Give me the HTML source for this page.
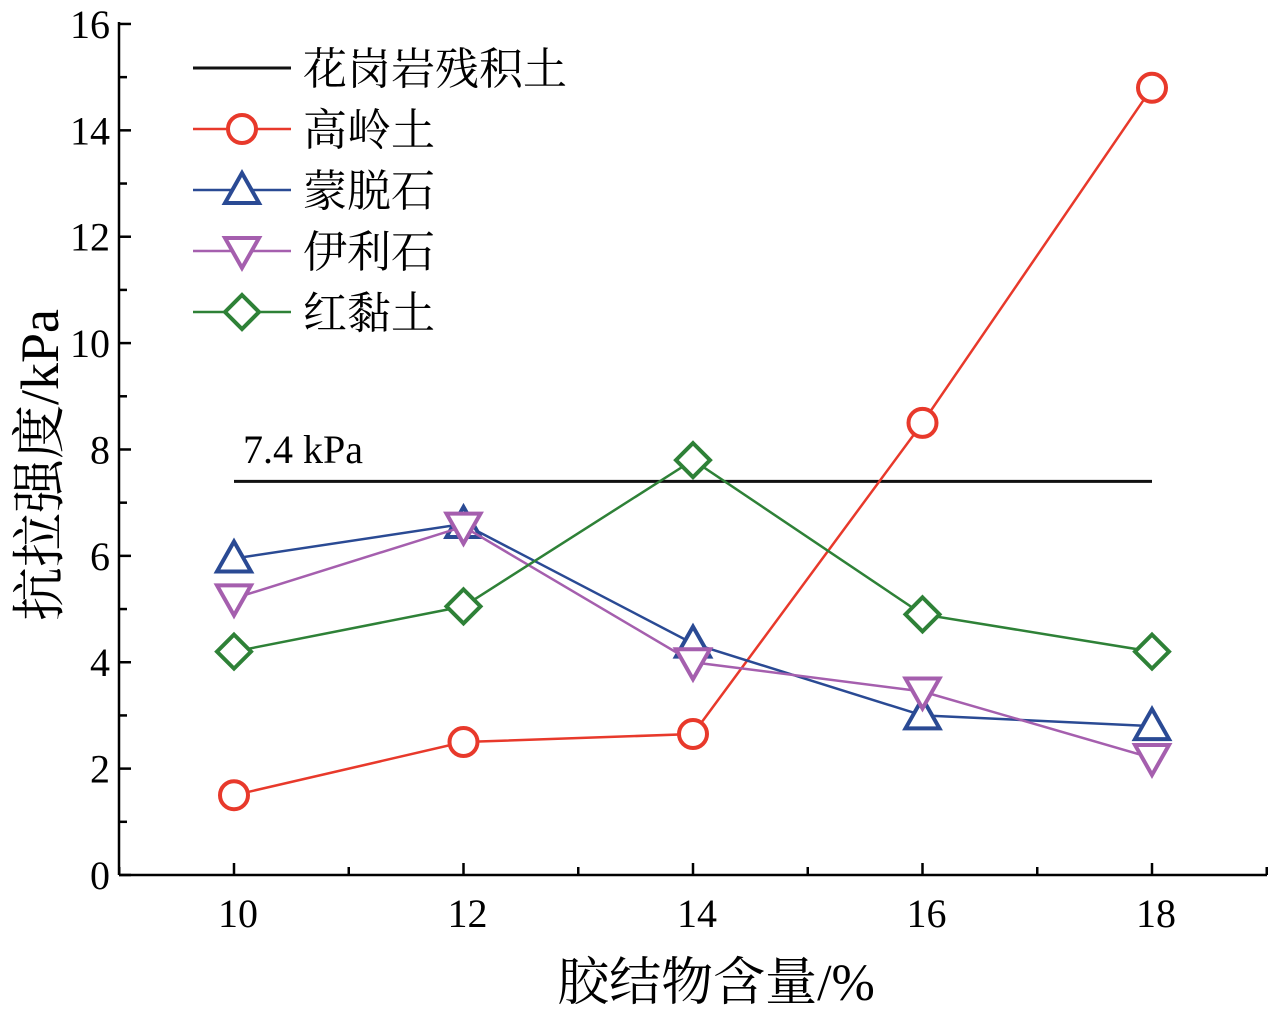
<!DOCTYPE html>
<html><head><meta charset="utf-8"><style>
body{margin:0;background:#fff}
svg text{font-family:"Liberation Serif","Noto Serif CJK SC",serif}
</style></head><body>
<svg id="c" width="1269" height="1017" xmlns="http://www.w3.org/2000/svg"></svg>
<script>
const categories=[10,12,14,16,18];
const kaolin=[1.5,2.5,2.65,8.5,14.8];
const montmorillonite=[5.95,6.6,4.35,3.0,2.8];
const illite=[5.2,6.55,4.0,3.45,2.2];
const redClay=[4.2,5.05,7.8,4.9,4.2];
const baseline=[7.4,7.4];
const yTicks=[0,2,4,6,8,10,12,14,16];
const xTicks=[10,12,14,16,18];
const seriesNames=["花岗岩残积土","高岭土","蒙脱石","伊利石","红黏土"];
const NS="http://www.w3.org/2000/svg";
const svg=document.getElementById('c');
const X=v=>234+(v-10)*114.75;
const Y=v=>875-v*53.19;
function el(t,a,p){const e=document.createElementNS(NS,t);for(const k in a)e.setAttribute(k,a[k]);(p||svg).appendChild(e);return e;}
let ax=el('line',{x1:119,y1:875,x2:1267,y2:875,stroke:'#000','stroke-width':2.5});

let ay=el('line',{x1:119,y1:875,x2:119,y2:22,stroke:'#000','stroke-width':2.5});

for(let v=0;v<=16;v++){const y=Y(v);el('line',{x1:119,y1:y,x2:v%2?127:131,y2:y,stroke:'#000','stroke-width':2.5});}
yTicks.forEach(v=>{const t=el('text',{x:110,y:Y(v)+14,'text-anchor':'end','font-size':40});t.textContent=v;
});
for(let v=9;v<=19;v++){const x=X(v);el('line',{x1:x,y1:875,x2:x,y2:v%2?867:863,stroke:'#000','stroke-width':2.5});}
xTicks.forEach(v=>{const t=el('text',{x:X(v)+4,y:927,'text-anchor':'middle','font-size':40});t.textContent=v;
});
let xt=el('text',{x:716,y:1000,'text-anchor':'middle','font-size':52});xt.textContent='胶结物含量/%';

let yt=el('text',{x:0,y:0,'text-anchor':'middle','font-size':54,transform:'translate(58,465) rotate(-90)'});yt.textContent='抗拉强度/kPa';

let bl=el('line',{x1:X(10),y1:Y(baseline[0]),x2:X(18),y2:Y(baseline[1]),stroke:'#111','stroke-width':3});

let bt=el('text',{x:243,y:463,'font-size':40});bt.textContent='7.4 kPa';

function marker(type,x,y,c,g){
 if(type==='circle')return el('circle',{cx:x,cy:y,r:14,fill:'#fff',stroke:c,'stroke-width':4},g);
 let pts;
 if(type==='up')pts=[[x,y-17],[x-17,y+13],[x+17,y+13]];
 else if(type==='down')pts=[[x,y+17],[x-17,y-13],[x+17,y-13]];
 else pts=[[x,y-17],[x+17,y],[x,y+17],[x-17,y]];
 return el('polygon',{points:pts.map(p=>p.join(',')).join(' '),fill:'#fff',stroke:c,'stroke-width':4},g);
}
const series=[[kaolin,'#e8392b','circle','kaolin'],[montmorillonite,'#2a4a94','up','montmorillonite'],[illite,'#a55fae','down','illite'],[redClay,'#2e8137','diamond','red-clay']];
series.forEach(([d,c,m,n])=>{
 const g=el('g',{});
 el('polyline',{points:d.map((v,i)=>X(categories[i])+','+Y(v)).join(' '),fill:'none',stroke:c,'stroke-width':2.5},g);
 d.forEach((v,i)=>{const mk=marker(m,X(categories[i]),Y(v),c,g);});
});
const lg=el('g',{});
const legendRows=[['#111',null],['#e8392b','circle'],['#2a4a94','up'],['#a55fae','down'],['#2e8137','diamond']];
legendRows.forEach(([c,m],i)=>{const y=68+i*61;
 const e=el('g',{},lg);
 el('line',{x1:193,y1:y,x2:291,y2:y,stroke:c,'stroke-width':m?2.5:3},e);
 if(m)marker(m,242,y,c,e);
 const t=el('text',{x:303,y:y+16,'font-size':44},e);t.textContent=seriesNames[i];
});
</script>
</body></html>
